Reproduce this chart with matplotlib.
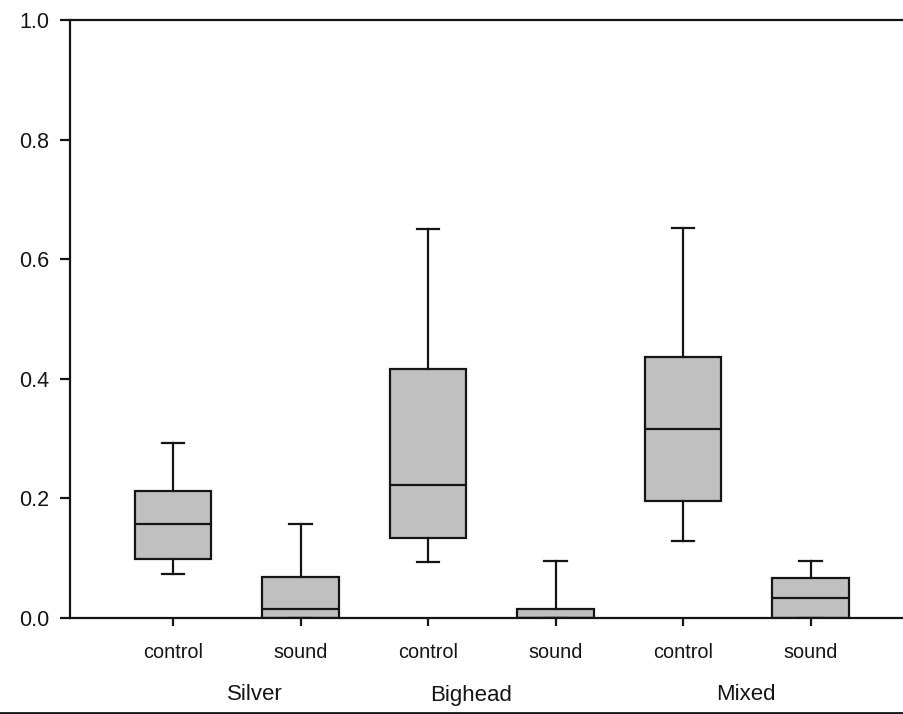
import matplotlib
matplotlib.use("Agg")
import matplotlib.pyplot as plt
from matplotlib.lines import Line2D
from matplotlib.transforms import blended_transform_factory

plt.rcParams['font.family'] = ['Liberation Sans', 'DejaVu Sans']

# Data
conditions = ["control", "sound", "control", "sound", "control", "sound"]
groups = ["Silver", "Bighead", "Mixed"]
group_label_x = [1.64, 3.34, 5.49]
whisker_low = [0.074, 0.0, 0.093, 0.0, 0.129, 0.0]
q1 = [0.099, 0.0, 0.133, 0.0, 0.195, 0.0]
median = [0.157, 0.015, 0.222, 0.0, 0.316, 0.033]
q3 = [0.213, 0.068, 0.417, 0.015, 0.436, 0.067]
whisker_high = [0.293, 0.157, 0.650, 0.095, 0.653, 0.095]
y_ticks = [0.0, 0.2, 0.4, 0.6, 0.8, 1.0]

W, H = 904, 714
fig = plt.figure(figsize=(W / 100, H / 100), dpi=100)
left_px, top_px, bottom_px = 70, 20, 618
ax = fig.add_axes([left_px / W, 1 - bottom_px / H, 1 - left_px / W, (bottom_px - top_px) / H])

stats = []
for i in range(len(conditions)):
    stats.append(dict(label=conditions[i], whislo=whisker_low[i], q1=q1[i], med=median[i],
                      q3=q3[i], whishi=whisker_high[i], fliers=[]))

edge = "#151515"
lw = 1.6
positions = list(range(1, len(conditions) + 1))
ax.bxp(stats, positions=positions, widths=0.6, patch_artist=True, showfliers=False,
       boxprops=dict(facecolor="#c0c0c0", edgecolor=edge, linewidth=lw),
       medianprops=dict(color=edge, linewidth=lw),
       whiskerprops=dict(color=edge, linewidth=lw),
       capprops=dict(color=edge, linewidth=lw),
       capwidths=0.18, zorder=2)

ax.set_xlim(0.192, 0.192 + (W - left_px) / 127.5)
ax.set_ylim(0, 1.0)
ax.set_yticks(y_ticks)
ax.set_yticklabels([f"{v:.1f}" for v in y_ticks])
ax.set_xticks(positions)
ax.set_xticklabels(conditions)

for s in ["left", "top", "bottom"]:
    ax.spines[s].set_linewidth(1.6)
    ax.spines[s].set_color(edge)
    ax.spines[s].set_zorder(3)
ax.spines["right"].set_visible(False)

ax.tick_params(axis="y", direction="out", length=7, width=1.6, pad=8, labelsize=15.5, colors=edge)
ax.tick_params(axis="x", direction="out", length=6, width=1.6, pad=12, labelsize=14.3, colors=edge)

trans = blended_transform_factory(ax.transData, fig.transFigure)
for gx, g in zip(group_label_x, groups):
    ax.text(gx, 1 - 695 / H, g, transform=trans, ha="center", va="center",
            fontsize=16, color=edge)

# bottom border line of the figure
fig.add_artist(Line2D([0, 1], [1.5 / H, 1.5 / H], transform=fig.transFigure,
                      color=edge, linewidth=2))

fig.savefig("out.png", dpi=100)
